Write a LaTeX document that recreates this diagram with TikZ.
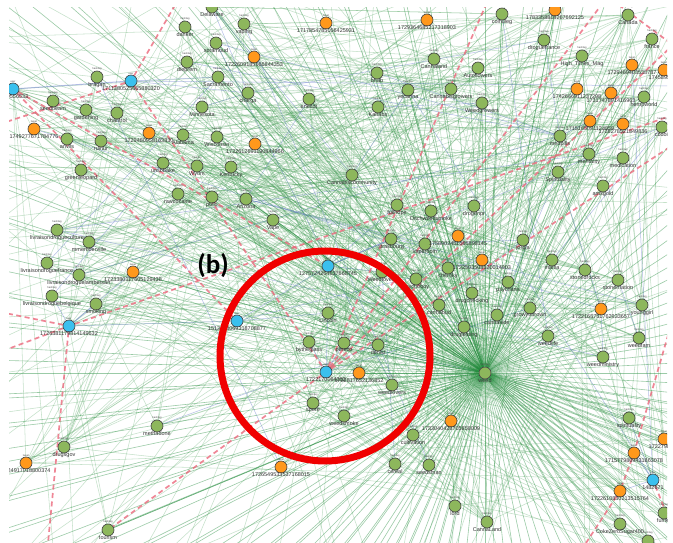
\documentclass[tikz,border=0pt]{standalone}
\usepackage{fontspec}
\setmainfont{Liberation Sans}
\newfontfamily\markfont{Carlito}
\usetikzlibrary{backgrounds,calc}
\definecolor{hashGreen}{RGB}{141,183,92}
\definecolor{tweetOrange}{RGB}{255,152,28}
\definecolor{userBlue}{RGB}{58,192,238}
\definecolor{webGreen}{RGB}{95,172,108}
\definecolor{hubGreen}{RGB}{35,140,60}
\definecolor{webBlue}{RGB}{105,125,205}
\definecolor{dashRed}{RGB}{236,104,124}
\definecolor{ringRed}{RGB}{240,0,0}
\tikzset{
  netDot/.style={circle, draw=black!75, line width=0.6pt, minimum size=12pt, inner sep=0pt},
  netKind/.style={font=\fontsize{2.6}{3}\selectfont, text=black!70, inner sep=0.3pt, label distance=-0.3pt},
  netName/.style={font=\fontsize{5.5}{6}\selectfont, text=black!80, inner sep=0.5pt, label distance=-1pt},
  netHashtag/.style={netDot, fill=hashGreen, label={[netKind]above:hashtag}, label={[netName]below:#1}},
  netTweet/.style={netDot, fill=tweetOrange, label={[netKind]above:tweet}, label={[netName]below:#1}},
  netUser/.style={netDot, fill=userBlue, label={[netKind]above:user}, label={[netName]below:#1}},
  netEdge/.style={draw=webGreen, line width=0.55pt, opacity=0.36},
  netHubEdge/.style={draw=hubGreen, line width=0.6pt, opacity=0.45},
  netBlueEdge/.style={draw=webBlue, line width=0.5pt, opacity=0.5},
  netDashed/.style={draw=dashRed, line width=1.7pt, opacity=0.8, dash pattern=on 5pt off 3.5pt}
}

\begin{document}
\begin{tikzpicture}[x=1pt, y=-1pt,
    ringMark/.style={circle, draw=ringRed, line width=7pt, minimum size=210pt, inner sep=0pt},
    panelMark/.style={font=\markfont\bfseries\fontsize{27}{30}\selectfont, inner sep=0pt}
  ]
  \useasboundingbox (0,0) rectangle (673,543);
  \clip (9,8) rectangle (667,543);

  % hashtags
  \node[netHashtag=Delaware] (delaware) at (212,7) {};
  \node[netHashtag=vaping] (vaping) at (244,24) {};
  \node[netHashtag=danker] (danker) at (185,27) {};
  \node[netHashtag=soramoud] (soramoud) at (216,43) {};
  \node[netHashtag=dieprem] (dieprem) at (187,62) {};
  \node[netHashtag=Sacramento] (sacramento) at (218,77) {};
  \node[netHashtag=bragan] (bragan) at (97,77) {};
  \node[netHashtag=charga] (charga) at (248,93) {};
  \node[netHashtag=enecdt] (enecdt) at (309,99) {};
  \node[netHashtag=seedbeam] (seedbeam) at (53,101) {};
  \node[netHashtag=Minnesota] (minnesota) at (202,107) {};
  \node[netHashtag=gardening] (gardening) at (86,110) {};
  \node[netHashtag=chantrol] (chantrol) at (117,113) {};
  \node[netHashtag=Alabama] (alabama) at (183,135) {};
  \node[netHashtag=Wisconsin] (wisconsin) at (217,137) {};
  \node[netHashtag=anvils] (anvils) at (67,139) {};
  \node[netHashtag=ruinur] (ruinur) at (101,141) {};
  \node[netHashtag=unsobake] (unsobake) at (163,163) {};
  \node[netHashtag=Wyom] (wyom) at (197,166) {};
  \node[netHashtag=Kentucky] (kentucky) at (231,167) {};
  \node[netHashtag=greenleopard] (greenleopard) at (81,170) {};
  \node[netHashtag=colhuleg] (colhuleg) at (502,14) {};
  \node[netHashtag=Canada] (canada) at (628,15) {};
  \node[netHashtag=france] (france) at (652,39) {};
  \node[netHashtag=droguefrance] (droguefrance) at (544,40) {};
  \node[netHashtag=High\_Times\_Mag] (hightimes) at (582,56) {};
  \node[netHashtag=Cannaland] (cannaland) at (434,59) {};
  \node[netHashtag=Autoflowers] (autoflowers) at (478,68) {};
  \node[netHashtag=bnab] (bnab) at (377,73) {};
  \node[netHashtag=yecanna] (yecanna) at (408,90) {};
  \node[netHashtag=Cannabisgrowers] (cannagrowers) at (451,89) {};
  \node[netHashtag=Weedgrowers] (weedgrowers) at (482,103) {};
  \node[netHashtag=Kanabs] (kanabs) at (378,107) {};
  \node[netHashtag=hempworld] (hempworld) at (644,97) {};
  \node[netHashtag=cbdoil] (cbdoil) at (662,127) {};
  \node[netHashtag=medpills] (medpills) at (560,136) {};
  \node[netHashtag=mentality] (mentality) at (589,154) {};
  \node[netHashtag=medication] (medication) at (623,158) {};
  \node[netHashtag=Spirituality] (spirituality) at (558,172) {};
  \node[netHashtag=Cannabiscommunity] (cannacom) at (352,175) {};
  \node[netHashtag=amsgold] (amsgold) at (603,186) {};
  \node[netHashtag=rawcocaine] (rawcocaine) at (178,194) {};
  \node[netHashtag=pollo] (pollo) at (212,197) {};
  \node[netHashtag=Arizona] (arizona) at (246,199) {};
  \node[netHashtag=Vape] (vape) at (273,220) {};
  \node[netHashtag=fullhope] (fullhope) at (397,205) {};
  \node[netHashtag=Ditchweedsmoke] (ditchweed) at (431,211) {};
  \node[netHashtag=drogenpr] (drogenpr) at (474,206) {};
  \node[netHashtag=strasbourg] (strasbourg) at (391,239) {};
  \node[netHashtag=vaperdom] (vaperdom) at (425,244) {};
  \node[netHashtag=jorgla] (jorgla) at (523,240) {};
  \node[netHashtag=cheroky] (cheroky) at (448,268) {};
  \node[netHashtag=Weedlovers] (weedlovers) at (382,272) {};
  \node[netHashtag=psychoboy] (psychoboy) at (416,279) {};
  \node[netHashtag=mania] (mania) at (552,260) {};
  \node[netHashtag=stonedrocks] (stonedrocks) at (585,270) {};
  \node[netHashtag=stonernation] (stonernation) at (618,280) {};
  \node[netHashtag=psycharts] (psycharts) at (508,282) {};
  \node[netHashtag=drugchecking] (drugchecking) at (472,293) {};
  \node[netHashtag=cannabud] (cannabud) at (439,305) {};
  \node[netHashtag=growyourown] (growyourown) at (530,308) {};
  \node[netHashtag=younggirl] (younggirl) at (642,305) {};
  \node[netHashtag=cannaside] (cannaside) at (497,315) {};
  \node[netHashtag=drugtesting] (drugtesting) at (464,327) {};
  \node[netHashtag=weedlife] (weedlife) at (548,336) {};
  \node[netHashtag=weedfam] (weedfam) at (639,338) {};
  \node[netHashtag=weedministry] (weedministry) at (603,357) {};
  \node[netHashtag=weed] (hub) at (485,373) {};
  \node[netHashtag=weedlovers] (weedloversb) at (392,385) {};
  \node[netHashtag=weedsmoke] (weedsmoke) at (344,416) {};
  \node[netHashtag=cultivation] (cultivation) at (413,435) {};
  \node[netHashtag=spirituality] (spiritualityb) at (629,418) {};
  \node[netHashtag=cereal] (cereal) at (395,464) {};
  \node[netHashtag=seedsman] (seedsman) at (429,465) {};
  \node[netHashtag=lord] (lord) at (455,506) {};
  \node[netHashtag=CannaLand] (cannalandb) at (487,522) {};
  \node[netHashtag=CokeZeroSugar400] (cokezero) at (620,524) {};
  \node[netHashtag=fumer] (fumer) at (664,513) {};
  \node[netHashtag=weedart] (weedart) at (648,541) {};
  \node[netHashtag=livraisondrogueculture] (livculture) at (57,230) {};
  \node[netHashtag=mmemberville] (mmemberville) at (89,242) {};
  \node[netHashtag=livraisondroguefrance] (livfrance) at (47,263) {};
  \node[netHashtag=livraisondroguelambersart] (livlambert) at (79,275) {};
  \node[netHashtag=livraisondroguebelgique] (livbelgique) at (52,296) {};
  \node[netHashtag=smoking] (smoking) at (96,304) {};
  \node[netHashtag=Lincoln] (lincoln) at (328,313) {};
  \node[netHashtag=bytheglass] (bytheglass) at (309,342) {};
  \node[netHashtag=pereco] (pereco) at (344,343) {};
  \node[netHashtag=denisl] (denisl) at (378,345) {};
  \node[netHashtag=spore] (spore) at (313,403) {};
  \node[netHashtag=methadone] (methadone) at (157,426) {};
  \node[netHashtag=drugsgov] (drugsgov) at (64,447) {};
  \node[netHashtag=tourism] (tourism) at (108,530) {};

  % tweets
  \node[netTweet=1717854785056425931] (tweetA) at (326,23) {};
  \node[netTweet=1722609185666844353] (tweetB) at (254,57) {};
  \node[netTweet=1749277671784776] (tweetC) at (34,129) {};
  \node[netTweet=1729480958163830] (tweetD) at (149,133) {};
  \node[netTweet=1722612691190844966] (tweetE) at (255,144) {};
  \node[netTweet=1729364685217318903] (tweetF) at (427,20) {};
  \node[netTweet=1783358818267692125] (tweetG) at (555,10) {};
  \node[netTweet=1729469403538787] (tweetH) at (632,65) {};
  \node[netTweet=1745895214] (tweetI) at (664,70) {};
  \node[netTweet=1742666911237298] (tweetJ) at (577,89) {};
  \node[netTweet=1731747891416963] (tweetK) at (611,93) {};
  \node[netTweet=1715165091124859] (tweetL) at (590,121) {};
  \node[netTweet=1728278521849836] (tweetM) at (623,124) {};
  \node[netTweet=1723380117605129438] (tweetN) at (133,272) {};
  \node[netTweet=1758902451565898145] (tweetO) at (458,236) {};
  \node[netTweet=1722503508520014903] (tweetP) at (482,260) {};
  \node[netTweet=1722165751762933657] (tweetQ) at (601,309) {};
  \node[netTweet=1722817652136852] (tweetR) at (359,373) {};
  \node[netTweet=1733040428705858009] (tweetS) at (451,421) {};
  \node[netTweet=1722798226] (tweetT) at (664,439) {};
  \node[netTweet=1715779809431863078] (tweetU) at (634,453) {};
  \node[netTweet=1722610830213515764] (tweetV) at (620,491) {};
  \node[netTweet=1724917018800374] (tweetW) at (26,463) {};
  \node[netTweet=1726549533537168015] (tweetX) at (281,467) {};

  % users
  \node[netUser=1711380525665880320] (userA) at (131,81) {};
  \node[netUser=1749556533] (userB) at (13,89) {};
  \node[netUser=1726381179814149632] (userC) at (69,326) {};
  \node[netUser=1513428069318708877] (userD) at (237,321) {};
  \node[netUser=1275724264637668745] (userE) at (328,266) {};
  \node[netUser=1722170084352] (userF) at (326,372) {};
  \node[netUser=1482671] (userG) at (653,480) {};

  \def\netAll{delaware,vaping,danker,soramoud,dieprem,sacramento,bragan,charga,enecdt,seedbeam,minnesota,gardening,chantrol,alabama,wisconsin,anvils,ruinur,unsobake,wyom,kentucky,greenleopard,colhuleg,canada,france,droguefrance,hightimes,cannaland,autoflowers,bnab,yecanna,cannagrowers,weedgrowers,kanabs,hempworld,cbdoil,medpills,mentality,medication,spirituality,cannacom,amsgold,rawcocaine,pollo,arizona,vape,fullhope,ditchweed,drogenpr,strasbourg,vaperdom,jorgla,cheroky,weedlovers,psychoboy,mania,stonedrocks,stonernation,psycharts,drugchecking,cannabud,growyourown,younggirl,cannaside,drugtesting,weedlife,weedfam,weedministry,hub,weedloversb,weedsmoke,cultivation,spiritualityb,cereal,seedsman,lord,cannalandb,cokezero,fumer,weedart,livculture,mmemberville,livfrance,livlambert,livbelgique,smoking,lincoln,bytheglass,pereco,denisl,spore,methadone,drugsgov,tourism,tweetA,tweetB,tweetC,tweetD,tweetE,tweetF,tweetG,tweetH,tweetI,tweetJ,tweetK,tweetL,tweetM,tweetN,tweetO,tweetP,tweetQ,tweetR,tweetS,tweetT,tweetU,tweetV,tweetW,tweetX,userA,userB,userC,userD,userE,userF,userG}
  \foreach \a [count=\i] in \netAll {\expandafter\xdef\csname netN\i\endcsname{\a}\xdef\netCount{\i}}

  % free ends of the dashed links
  \coordinate (dTopA) at (178,0);
  \coordinate (dTopB) at (488,0);
  \coordinate (dTopC) at (605,0);
  \coordinate (dTopD) at (612,0);
  \coordinate (dLeftA) at (0,124);
  \coordinate (dLeftB) at (0,312);
  \coordinate (dLeftC) at (0,352);
  \coordinate (dRightA) at (673,145);
  \coordinate (dRightB) at (673,115);
  \coordinate (dRightC) at (673,318);
  \coordinate (dRightD) at (673,45);
  \coordinate (dBottomA) at (48,543);
  \coordinate (dBottomB) at (586,543);
  \coordinate (dBottomC) at (673,530);
  \coordinate (bRightA) at (673,86);

  \begin{scope}[on background layer]
    \fill[white] (0,0) rectangle (673,543);
    \begin{scope}
      \clip (9,8) rectangle (667,543);
      \pgfmathsetseed{4127}
      % web of retweets and mentions
      \foreach \k in {1,...,620} {
        \pgfmathrandominteger{\netP}{1}{\netCount}
        \pgfmathrandominteger{\netQ}{1}{\netCount}
        \edef\netA{\csname netN\netP\endcsname}
        \edef\netB{\csname netN\netQ\endcsname}
        \ifx\netA\netB\else\draw[netEdge] (\netA) -- (\netB);\fi
      }
      % links that leave the view
      \foreach \k in {1,...,110} {
        \pgfmathrandominteger{\netP}{1}{\netCount}
        \pgfmathrandominteger{\netQ}{0}{359}
        \edef\netA{\csname netN\netP\endcsname}
        \coordinate (webFar\k) at ($(\netA)+(\netQ:900)$);
        \draw[netEdge] (\netA) -- (webFar\k);
      }
      \foreach \k in {1,...,40} {
        \pgfmathrandominteger{\netP}{1}{\netCount}
        \pgfmathrandominteger{\netQ}{1}{\netCount}
        \edef\netA{\csname netN\netP\endcsname}
        \edef\netB{\csname netN\netQ\endcsname}
        \ifx\netA\netB\else\draw[netBlueEdge] (\netA) -- (\netB);\fi
      }
      % the big hashtag
      \foreach \ang in {0,3,...,357} {
        \coordinate (hubFar\ang) at ($(hub)+(\ang:900)$);
        \draw[netHubEdge] (hub) -- (hubFar\ang);
      }
      \foreach \ang in {100,104,...,260} {
        \coordinate (hubMore\ang) at ($(hub)+(\ang+1.5:900)$);
        \draw[netHubEdge] (hub) -- (hubMore\ang);
      }
      \foreach \ang in {8,11,...,60} {
        \coordinate (hubRight\ang) at ($(hub)+(\ang+1.5:900)$);
        \draw[netHubEdge] (hub) -- (hubRight\ang);
      }
      \foreach \k in {1,...,50} {
        \pgfmathrandominteger{\netP}{1}{\netCount}
        \edef\netA{\csname netN\netP\endcsname}
        \draw[netHubEdge] (hub) -- (\netA);
      }
      \foreach \ang in {95,101,...,275} {
        \coordinate (comFar\ang) at ($(cannacom)+(\ang:700)$);
        \draw[netEdge] (cannacom) -- (comFar\ang);
      }
      \foreach \k in {1,...,25} {
        \pgfmathrandominteger{\netP}{1}{\netCount}
        \edef\netA{\csname netN\netP\endcsname}
        \draw[netEdge] (cannacom) -- (\netA);
      }
      % user links
      \draw[netBlueEdge, line width=1pt] (userB) -- (userA);
      \draw[netBlueEdge] (userA) -- (bRightA);
      \draw[netBlueEdge] (userA) -- (sacramento);
      \draw[netBlueEdge] (userA) -- (charga);
      \draw[netBlueEdge] (userD) -- (userE);
      \draw[netBlueEdge] (userD) -- (lincoln);
      \draw[netBlueEdge] (userD) -- (userC);
      \draw[netBlueEdge] (userE) -- (strasbourg);
      \draw[netBlueEdge] (userE) -- (weedlovers);
      \draw[netBlueEdge] (userE) -- (fullhope);
      \draw[netBlueEdge] (userF) -- (lincoln);
      \draw[netBlueEdge] (userF) -- (pereco);
      \draw[netBlueEdge] (userF) -- (bytheglass);
      \draw[netBlueEdge] (userC) -- (smoking);
      \draw[netBlueEdge] (userC) -- (livbelgique);
      \draw[netBlueEdge] (userC) -- (tweetN);
      \draw[netBlueEdge] (userG) -- (tweetU);
      \draw[netBlueEdge] (userG) -- (tweetV);
      \draw[netBlueEdge] (userG) -- (spiritualityb);
      % dashed links
      \draw[netDashed] (userA) -- (dTopA);
      \draw[netDashed] (userA) -- (dLeftA);
      \draw[netDashed] (userA) -- (userF);
      \draw[netDashed] (userB) -- (userE);
      \draw[netDashed] (userB) -- (userD);
      \draw[netDashed] (userF) -- (tourism);
      \draw[netDashed] (userF) -- (dTopB);
      \draw[netDashed] (userF) -- (dTopC);
      \draw[netDashed] (userF) -- (dRightA);
      \draw[netDashed] (userF) -- (dRightD);
      \draw[netDashed] (userC) -- (dRightB);
      \draw[netDashed] (userC) -- (dBottomA);
      \draw[netDashed] (userC) -- (dLeftB);
      \draw[netDashed] (userC) -- (dLeftC);
      \draw[netDashed] (dRightC) -- (tweetU);
      \draw[netDashed] (tweetU) -- (tweetV);
      \draw[netDashed] (tweetV) -- (dBottomB);
      \draw[netDashed] (dTopD) -- (dRightD);
      \draw[netDashed] (userG) -- (dBottomC);
    \end{scope}
  \end{scope}

  \node[ringMark] (ring) at (325,356) {};
  \node[panelMark] (panelB) at (213,266) {(b)};
\end{tikzpicture}
\end{document}
